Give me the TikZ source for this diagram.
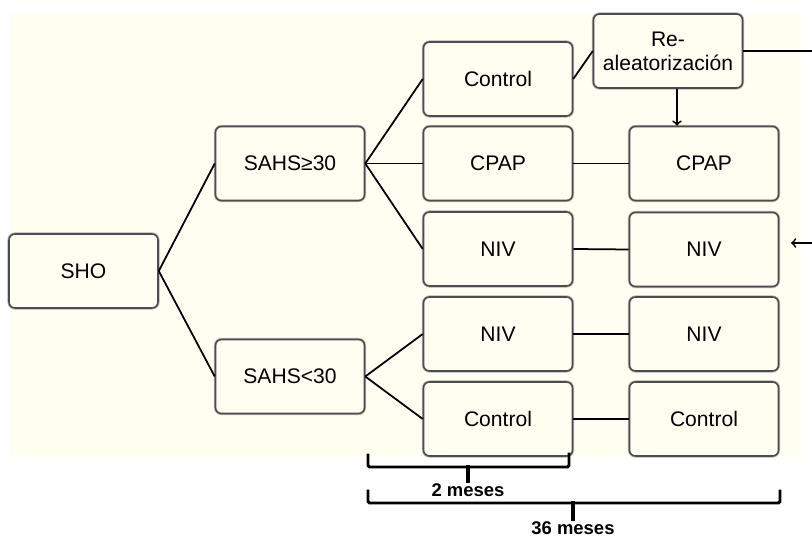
\documentclass[tikz,border=0pt]{standalone}
\usepackage{fontspec}
\setsansfont{Liberation Sans}
\definecolor{cream}{RGB}{254,254,241}

\begin{document}
\begin{tikzpicture}[x=0.02cm,y=-0.02cm,
		thick,box node/.style={rectangle,rounded corners=0.12cm,draw=black!70,line width=0.9pt,
			preaction={draw=black!30,line width=1.8pt},fill=cream,
			minimum width=2.98cm,minimum height=1.48cm,inner sep=0pt,align=center,
			font=\sffamily\fontsize{12}{13.5}\selectfont},
		brace/.style={line width=1.7pt,line cap=rect,rounded corners=0.03cm},
		brace label/.style={font=\sffamily\bfseries\fontsize{10.5}{12}\selectfont}]

		\useasboundingbox (0,0) rectangle (812,536);
		\fill[cream] (9,13) rectangle (801,457);

		\node[box node] (sho) at (83.5,271) {SHO};
		\node[box node] (sahsA) at (290,163.5) {SAHS≥30};
		\node[box node] (sahsB) at (290,376.5) {SAHS<30};

		\node[box node] (ctrlA) at (498,79) {Control};
		\node[box node] (cpapA) at (498,163.5) {CPAP};
		\node[box node] (nivA) at (498,249) {NIV};
		\node[box node] (nivB) at (498,334) {NIV};
		\node[box node] (ctrlB) at (498,419) {Control};

		\node[box node] (realea) at (668,51) {Re-\\aleatorización};
		\node[box node] (cpapC) at (704,163.5) {CPAP};
		\node[box node] (nivC) at (704,249.5) {NIV};
		\node[box node] (nivD) at (704,334) {NIV};
		\node[box node] (ctrlC) at (704,419) {Control};

		\coordinate (outR) at (812,51);
		\coordinate (inR) at (812,243);
		\coordinate (tipR) at (791,243);

		\path[line width=1pt]
		(sho.east) edge (sahsA.west)
		(sho.east) edge (sahsB.west)
		(sahsA.east) edge (ctrlA.west)
		(sahsA.east) edge (cpapA.west)
		(sahsA.east) edge (nivA.west)
		(sahsB.east) edge (nivB.west)
		(sahsB.east) edge (ctrlB.west)
		(ctrlA.east) edge (realea.west)
		(cpapA.east) edge (cpapC.west)
		(nivA.east) edge (nivC.west)
		(nivB.east) edge (nivD.west)
		(ctrlB.east) edge (ctrlC.west)
		(realea.east) edge (outR)
		([xshift=0.18cm]realea.south) edge[->] ([xshift=0.18cm]realea.south |- cpapC.north)
		(inR) edge[->] (tipR);

		\draw[brace] (368,455) -- (368,467) -- (569,467) -- (569,454);
		\draw[brace,line width=2pt] (468,467) -- (468,481);
		\node[brace label] (twoM) at (468,490) {2 meses};

		\draw[brace] (368,491) -- (368,503) -- (780,503) -- (780,491);
		\draw[brace,line width=2pt] (573,503) -- (573,519);
		\node[brace label] (sixM) at (573,528) {36 meses};
		\end{tikzpicture}
\end{document}
